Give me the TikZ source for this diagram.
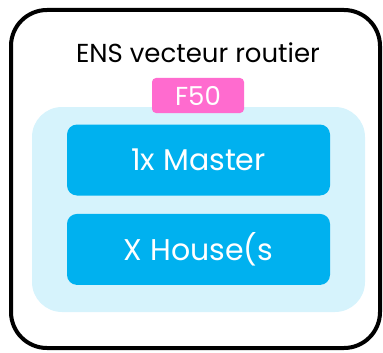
\documentclass[tikz,border=0pt]{standalone}
\usepackage{fontspec}
\setmainfont{Poppins}
\usetikzlibrary{positioning}
\definecolor{panelblue}{HTML}{D6F3FC}
\definecolor{boxblue}{HTML}{00B1EF}
\definecolor{tagpink}{HTML}{FF6BCF}

\begin{document}
\begin{tikzpicture}[x=1pt, y=-1pt,
          outer/.style={draw=black, line width=4pt, rounded corners=36pt},
          panel/.style={fill=panelblue, rounded corners=30pt, minimum width=333pt, minimum height=205pt},
          bluebox/.style={fill=boxblue, text=white, rounded corners=10pt, minimum width=263pt, minimum height=71pt, font=\fontsize{30}{34}\selectfont},
          tag/.style={fill=tagpink, text=white, rounded corners=4pt, minimum width=92pt, minimum height=35pt, inner sep=0pt, font=\fontsize{26}{30}\selectfont}]
          \useasboundingbox (0,0) rectangle (383,353);
          \draw[outer] (11,10) rectangle (380,348);
          \node[font=\fontsize{26}{30}\selectfont] (ens) at (198,53) {ENS vecteur routier};
          \node[panel] (area) at (198.5,209.5) {};
          \node[tag] (fifty) at (198,95.5) {F50};
          \node[bluebox] (master) at (198.5,160) {1x Master};
          \node[bluebox, below=18pt of master] (house) {X House(s};
        \end{tikzpicture}
\end{document}
